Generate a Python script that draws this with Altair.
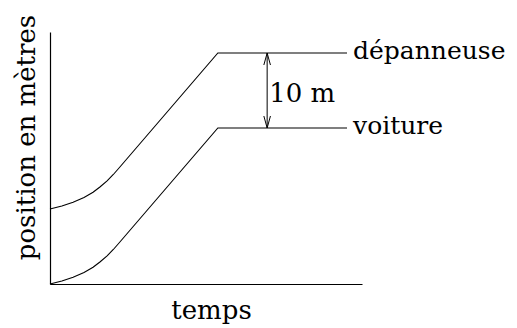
import altair as alt
import pandas as pd

# time (arbitrary units) and positions in metres
temps = [0, 0.38, 0.74, 1.09, 1.38, 1.6, 1.83, 2.03, 2.24, 5.38, 9.52]
voiture = [0, 0.4, 0.89, 1.53, 2.23, 2.93, 3.75, 4.6, 5.6, 20.8, 20.8]
depanneuse = [10, 10.4, 10.89, 11.53, 12.23, 12.93, 13.75, 14.6, 15.6, 30.8, 30.8]

series_names = ["dépanneuse", "voiture"]
label_t = 9.52
label_pos = [30.8, 20.8]

gap_t = 6.96
gap_low = 20.8
gap_high = 30.8
gap_text = "10 m"

FONT = "DejaVu Serif"
FS = 26
FS_LAB = 25

rows = []
for t, v, d in zip(temps, voiture, depanneuse):
    rows.append({"t": t, "pos": d, "serie": "dépanneuse"})
    rows.append({"t": t, "pos": v, "serie": "voiture"})
df = pd.DataFrame(rows)

xscale = alt.Scale(domain=[0, 10], nice=False, zero=False)
yscale = alt.Scale(domain=[0, 33.6], nice=False, zero=False)

x_axis = alt.Axis(title="temps", labels=False, ticks=False, grid=False,
                  domainColor="black", domainWidth=1.2,
                  titleFont=FONT, titleFontSize=FS, titleFontWeight="normal",
                  titleColor="black", titleX=161, titleY=34,
                  titleBaseline="alphabetic", titleAlign="center")
y_axis = alt.Axis(title="position en mètres", labels=False, ticks=False, grid=False,
                  domainColor="black", domainWidth=1.2,
                  titleFont=FONT, titleFontSize=FS, titleFontWeight="normal",
                  titleColor="black", titleX=-16, titleY=105, titleAngle=270,
                  titleBaseline="alphabetic", titleAlign="center")

lines = alt.Chart(df).mark_line(color="black", strokeWidth=1.1).encode(
    x=alt.X("t:Q", scale=xscale, axis=x_axis),
    y=alt.Y("pos:Q", scale=yscale, axis=y_axis),
    detail="serie:N",
)

lab_df = pd.DataFrame({"t": [label_t, label_t], "pos": label_pos, "txt": series_names})
labels = alt.Chart(lab_df).mark_text(align="left", baseline="middle", dx=6, dy=-2,
                                      font=FONT, fontSize=FS_LAB, color="black").encode(
    x=alt.X("t:Q", scale=xscale), y=alt.Y("pos:Q", scale=yscale), text="txt:N")

arr_df = pd.DataFrame({"t": [gap_t], "lo": [gap_low], "hi": [gap_high],
                       "mid": [(gap_low + gap_high) / 2], "txt": [gap_text]})
shaft = alt.Chart(arr_df).mark_rule(color="black", strokeWidth=1).encode(
    x=alt.X("t:Q", scale=xscale), y=alt.Y("lo:Q", scale=yscale), y2="hi:Q")
head_top = alt.Chart(arr_df).mark_point(
    shape="M-0.55,2L0,0L0.55,2", filled=False, stroke="black", strokeWidth=1,
    size=144, opacity=1).encode(x=alt.X("t:Q", scale=xscale), y=alt.Y("hi:Q", scale=yscale))
head_bot = alt.Chart(arr_df).mark_point(
    shape="M-0.55,-2L0,0L0.55,-2", filled=False, stroke="black", strokeWidth=1,
    size=144, opacity=1).encode(x=alt.X("t:Q", scale=xscale), y=alt.Y("lo:Q", scale=yscale))
gap_label = alt.Chart(arr_df).mark_text(align="left", baseline="middle", dx=2, dy=3,
                                         font=FONT, fontSize=FS, color="black").encode(
    x=alt.X("t:Q", scale=xscale), y=alt.Y("mid:Q", scale=yscale), text="txt:N")

chart = alt.layer(lines, labels, shaft, head_top, head_bot, gap_label).properties(
    width=312, height=252,
    autosize=alt.AutoSizeParams(type="none"),
    padding={"left": 42, "top": 24, "right": 147, "bottom": 44},
    background="white",
).configure_view(stroke=None)

chart.save("out.html", embed_options={"renderer": "svg", "actions": False})
